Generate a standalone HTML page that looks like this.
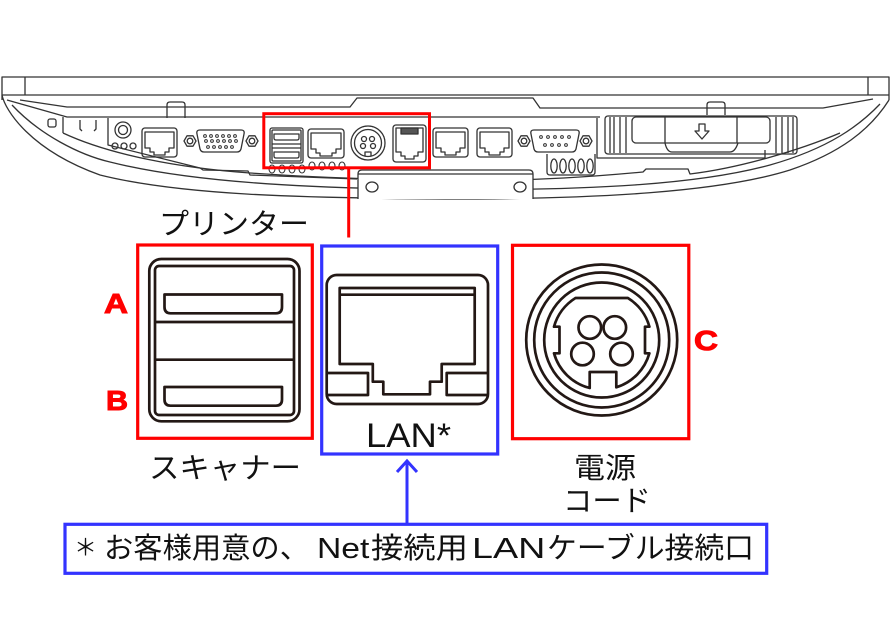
<!DOCTYPE html>
<html><head><meta charset="utf-8"><style>
html,body{margin:0;padding:0;background:#fff;}
svg{display:block;}
text{font-family:"Liberation Sans","Noto Sans CJK JP",sans-serif;}
</style></head><body>
<svg width="893" height="639" viewBox="0 0 893 639" xmlns="http://www.w3.org/2000/svg">
<rect width="893" height="639" fill="#fff"/>

<g fill="none" stroke="#333" stroke-width="1.3" stroke-linejoin="round">
  <path d="M2,100 V77 H889 V100"/>
  <line x1="2" y1="95" x2="889" y2="95"/>
  <line x1="25" y1="77" x2="25" y2="95"/>
  <line x1="868" y1="77" x2="868" y2="95"/>
  <path d="M20,100 L67,107 H350 L357,98 H533 L540,108 H823 L873,99"/>
  <path d="M7,100 L67,117 H600"/>
  <path d="M2,95 C5,110 30,150 100,175 C180,195 300,198 445,199 C600,199 720,192 790,170 C840,153 870,130 889,100"/>
  <path d="M12,105 C40,135 80,155 110,162 C190,182 300,188 445,190 C600,190 700,184 770,165 C830,148 860,125 880,104"/>
  <path d="M63,133 C110,155 180,168 250,173 C320,178 400,180 445,181 C540,181 600,176 643,172 L646,169 L688,169 L690,174 C740,168 800,150 840,133"/>
  <path d="M63,117 V133"/>
  <path d="M108,118 V145 L200,168 L203,170 L248,171 L250,175 L357,179"/>
  <path d="M167,118 V105 Q167,102 170,102 H182 Q185,102 185,105 V118"/>
  <path d="M707,115 V105 Q707,102 710,102 H722 Q725,102 725,105 V115"/>
  <rect x="48" y="119" width="8" height="8" rx="2"/>
  <path d="M80,120 V129 L82,131 M96,120 V129 L94,131"/>
  <circle cx="123" cy="130" r="8"/>
  <circle cx="123" cy="130" r="4.5"/>
  <circle cx="115" cy="146" r="3"/><circle cx="124" cy="146" r="3"/><circle cx="133" cy="146" r="3"/>
  <rect x="142" y="128" width="35" height="29" rx="3"/>
  <path d="M145,132 H174 V148 H169 V152 H165 V155 H154 V152 H150 V148 H145 Z"/>
  <polygon points="196,141 193,146.2 187,146.2 184,141 187,135.8 193,135.8"/>
  <circle cx="190" cy="141" r="2.8"/>
  <polygon points="258,141 255,146.2 249,146.2 246,141 249,135.8 255,135.8"/>
  <circle cx="252" cy="141" r="2.8"/>
  <path d="M200,130 H241 Q245,130 244,134 L241,149 Q240,152 237,152 H204 Q201,152 200,149 L197,134 Q196,130 200,130 Z"/>
  <g stroke-width="1">
    <circle cx="205" cy="136" r="1.4"/><circle cx="211" cy="136" r="1.4"/><circle cx="217" cy="136" r="1.4"/><circle cx="223" cy="136" r="1.4"/><circle cx="229" cy="136" r="1.4"/><circle cx="235" cy="136" r="1.4"/>
    <circle cx="206" cy="141" r="1.4"/><circle cx="212" cy="141" r="1.4"/><circle cx="218" cy="141" r="1.4"/><circle cx="224" cy="141" r="1.4"/><circle cx="230" cy="141" r="1.4"/><circle cx="236" cy="141" r="1.4"/>
    <circle cx="208" cy="147" r="1.4"/><circle cx="214" cy="147" r="1.4"/><circle cx="220" cy="147" r="1.4"/><circle cx="226" cy="147" r="1.4"/><circle cx="232" cy="147" r="1.4"/>
  </g>
  <rect x="270" y="128" width="33" height="35" rx="2"/>
  <rect x="272" y="130" width="29" height="31" rx="1"/>
  <path d="M274,134 H299 V138 Q299,140 297,140 H276 Q274,140 274,138 Z"/>
  <path d="M274,152 H299 V156 Q299,158 297,158 H276 Q274,158 274,156 Z"/>
  <line x1="272" y1="144" x2="301" y2="144"/><line x1="272" y1="148" x2="301" y2="148"/>
  <rect x="308" y="129" width="36" height="29" rx="3"/>
  <path d="M311,133 H341 V149 H336 V153 H332 V156 H320 V153 H316 V149 H311 Z"/>
  <g stroke-width="1.1">
    <ellipse cx="272" cy="169" rx="3" ry="4"/><ellipse cx="282" cy="169" rx="3" ry="4"/><ellipse cx="292" cy="169" rx="3" ry="4"/><ellipse cx="302" cy="169" rx="3" ry="4"/>
    <ellipse cx="312" cy="166" rx="3" ry="4"/><ellipse cx="322" cy="166" rx="3" ry="4"/><ellipse cx="332" cy="166" rx="3" ry="4"/><ellipse cx="342" cy="166" rx="3" ry="4"/>
  </g>
  <circle cx="368" cy="143" r="17"/>
  <circle cx="368" cy="143" r="13.5"/>
  <circle cx="364" cy="139" r="2.5"/><circle cx="372" cy="139" r="2.5"/>
  <circle cx="363" cy="146" r="2.5"/><circle cx="373" cy="146" r="2.5"/>
  <path d="M365,156 V152 H371 V156"/>
  <rect x="393" y="125" width="33" height="37" rx="3"/>
  <path d="M396,128 H423 V152 H418 V156 H414 V159 H405 V156 H401 V152 H396 Z"/>
  <rect x="401" y="128" width="17" height="6" fill="#555"/>
  <rect x="433" y="128" width="35" height="29" rx="3"/>
  <path d="M436,132 H465 V148 H460 V152 H456 V155 H445 V152 H441 V148 H436 Z"/>
  <rect x="477" y="128" width="35" height="29" rx="3"/>
  <path d="M480,132 H509 V148 H504 V152 H500 V155 H489 V152 H485 V148 H480 Z"/>
  <polygon points="530,141 527,146.2 521,146.2 518,141 521,135.8 527,135.8"/>
  <circle cx="524" cy="141" r="2.8"/>
  <polygon points="592,141 589,146.2 583,146.2 580,141 583,135.8 589,135.8"/>
  <circle cx="586" cy="141" r="2.8"/>
  <path d="M534,130 H576 Q580,130 579,134 L576,149 Q575,152 572,152 H538 Q535,152 534,149 L531,134 Q530,130 534,130 Z"/>
  <g stroke-width="1">
    <circle cx="541" cy="137" r="1.4"/><circle cx="548" cy="137" r="1.4"/><circle cx="555" cy="137" r="1.4"/><circle cx="562" cy="137" r="1.4"/><circle cx="569" cy="137" r="1.4"/>
    <circle cx="545" cy="145" r="1.4"/><circle cx="552" cy="145" r="1.4"/><circle cx="559" cy="145" r="1.4"/><circle cx="566" cy="145" r="1.4"/>
  </g>
  <path d="M547,154 V172 Q547,175 550,175 H592 Q595,175 595,172 V154"/>
  <ellipse cx="554" cy="166" rx="3.2" ry="7"/><ellipse cx="563" cy="166" rx="3.2" ry="7"/><ellipse cx="572" cy="166" rx="3.2" ry="7"/><ellipse cx="581" cy="166" rx="3.2" ry="7"/><ellipse cx="590" cy="166" rx="3.2" ry="7"/>
  <path d="M597,118 V158 H765 V150"/>
  <rect x="605" y="116" width="192" height="38" rx="3"/>
  <rect x="632" y="117" width="138" height="26" rx="4"/>
  <path d="M610,117 V153 M614,117 V153 M620,117 V153 M626,117 V153 M776,117 V153 M782,117 V153 M788,117 V153 M793,117 V153"/>
  <path d="M665,117 V143 M737,117 V143"/>
  <path d="M665,143 Q667,152 672,152 H730 Q735,152 738,143"/>
  <path d="M699,124 H705 V131 H709 L702,139 L695,131 H699 Z"/>
  <path d="M358,199 V174 Q358,170 362,170 H529 Q533,170 533,174 V199" fill="#fff"/>
  <line x1="358" y1="174" x2="533" y2="174"/>
  <ellipse cx="372" cy="187" rx="6" ry="5"/>
  <ellipse cx="520" cy="187" rx="6" ry="5"/>
</g>

<rect x="263.8" y="113.7" width="165.7" height="54.1" fill="none" stroke="#ff0000" stroke-width="3"/>
<line x1="348.7" y1="168" x2="348.7" y2="237.5" stroke="#ff0000" stroke-width="3"/>

<rect x="137.7" y="245" width="174.6" height="193.3" fill="none" stroke="#ff0000" stroke-width="3.2"/>
<rect x="321.7" y="246" width="176" height="208" fill="none" stroke="#3333ff" stroke-width="3.2"/>
<rect x="512.5" y="245.3" width="176.3" height="193.4" fill="none" stroke="#ff0000" stroke-width="3.2"/>

<g fill="none" stroke="#231815" stroke-width="2.7" stroke-linejoin="round">
  <rect x="149.3" y="259" width="150.2" height="162.3" rx="12"/>
  <rect x="155" y="266" width="139" height="149" rx="4"/>
  <line x1="155" y1="322" x2="294" y2="322"/>
  <line x1="155" y1="359.7" x2="294" y2="359.7"/>
  <path d="M164.5,294.5 H282 V307 Q282,313.3 276,313.3 H170.5 Q164.5,313.3 164.5,307 Z"/>
  <path d="M164.5,387 H282 V399.5 Q282,405.7 276,405.7 H170.5 Q164.5,405.7 164.5,399.5 Z"/>

  <rect x="326.7" y="275" width="161.3" height="129" rx="10"/>
  <line x1="339.7" y1="294.7" x2="474.7" y2="294.7"/>
  <path d="M339.7,288 H474.7 V364 H441.7 V381.7 H430 V394.3 H383.3 V381.7 H372.8 V364 H339.7 Z"/>
  <path d="M326.7,373 H368 V395 H326.7"/>
  <path d="M488,373 H446.7 V395 H488"/>

  <circle cx="601.7" cy="340" r="75.5"/>
  <circle cx="601.7" cy="340" r="67.5"/>
  <circle cx="601.7" cy="340" r="57.5"/>
  <path d="M575.5,298 H627.9 A49.5,49.5 0 0 1 649.4,326.7 H645 V353.3 H649.4 A49.5,49.5 0 0 1 616.3,387.3 V372 H589.7 V388 A49.5,49.5 0 0 1 554,353.3 H559.5 V326.7 H554 A49.5,49.5 0 0 1 575.5,298 Z"/>
  <circle cx="589.8" cy="327.5" r="11.3"/>
  <circle cx="614.8" cy="327.5" r="11.3"/>
  <circle cx="582.5" cy="354" r="11.3"/>
  <circle cx="621.5" cy="354" r="11.3"/>
</g>

<g fill="#ff0000" stroke="#ff0000" stroke-width="1" font-weight="bold" font-size="28">
  <text x="104" y="313" textLength="24" lengthAdjust="spacingAndGlyphs">A</text>
  <text x="106" y="410" textLength="22" lengthAdjust="spacingAndGlyphs">B</text>
  <text x="694" y="350" textLength="24" lengthAdjust="spacingAndGlyphs">C</text>
</g>

<g fill="#111" font-size="29">
  <text x="159" y="234" textLength="150" lengthAdjust="spacingAndGlyphs">プリンター</text>
  <text x="149" y="478" textLength="152" lengthAdjust="spacingAndGlyphs">スキャナー</text>
  <text x="574" y="478" textLength="62" lengthAdjust="spacingAndGlyphs">電源</text>
  <text x="563" y="511" textLength="88" lengthAdjust="spacingAndGlyphs">コード</text>
  <text x="366" y="447" font-size="34" textLength="85" lengthAdjust="spacingAndGlyphs">LAN*</text>
</g>

<g fill="none" stroke="#3333ff" stroke-width="3">
  <line x1="407" y1="523" x2="407" y2="462"/>
  <polyline points="397,472 407,461 417,472"/>
</g>

<rect x="65" y="524.3" width="701.7" height="49" fill="#fff" stroke="#3333ff" stroke-width="3.2"/>
<g fill="#111" font-size="29">
  <text x="74" y="555" font-size="23" textLength="23" lengthAdjust="spacingAndGlyphs">＊</text>
  <text x="104" y="558" textLength="205" lengthAdjust="spacingAndGlyphs">お客様用意の、</text>
  <text transform="translate(317,558) scale(1.16,1)" x="0" y="0">Net</text>
  <text x="371" y="558" textLength="97" lengthAdjust="spacingAndGlyphs">接続用</text>
  <text transform="translate(472,558) scale(1.3,1)" x="0" y="0">LAN</text>
  <text x="547" y="558" textLength="207" lengthAdjust="spacingAndGlyphs">ケーブル接続口</text>
</g>
</svg>
</body></html>
